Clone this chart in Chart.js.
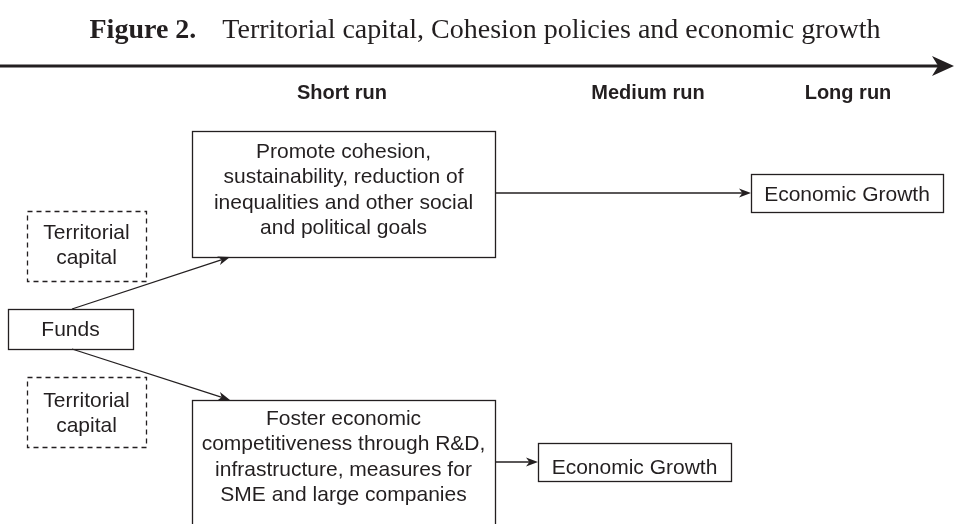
<!DOCTYPE html>
<html><head><meta charset="utf-8">
<script src="https://cdn.jsdelivr.net/npm/chart.js@4/dist/chart.umd.min.js"></script>
<style>html,body{margin:0;padding:0;background:#fff}</style>
</head><body>
<canvas id="c" width="954" height="524"></canvas>
<script>
// ---- content ----
const titleBold = 'Figure 2.';
const titleText = 'Territorial capital, Cohesion policies and economic growth';
const stageLabels = ['Short run', 'Medium run', 'Long run'];
const boxLabels = [
  ['Promote cohesion,', 'sustainability, reduction of', 'inequalities and other social', 'and political goals'],
  ['Economic Growth'],
  ['Territorial', 'capital'],
  ['Funds'],
  ['Territorial', 'capital'],
  ['Foster economic', 'competitiveness through R&D,', 'infrastructure, measures for', 'SME and large companies'],
  ['Economic Growth']
];
const boxDashed = [false, false, true, false, true, false, false];
// ---- layout (diagram units) ----
const stageX = [342, 648, 848];
const stageY = 93;
const boxLeft   = [192, 751, 27,  8,   27,  192, 538];
const boxTop    = [131, 174, 211, 309, 377, 400, 443];
const boxRight  = [495, 943, 146, 133, 146, 495, 731];
const boxBottom = [257, 212, 281, 349, 447, 540, 481];
const textTopY  = [152, 195, 233, 330, 401, 419, 468];
const lineStep = 25.5;
const arrowFromX = [0,   495, 72,  72,  495];
const arrowFromY = [66,  193, 309, 349, 462];
const arrowToX   = [954, 751, 230, 230, 538];
const arrowToY   = [66,  193, 257, 400, 462];
const arrowWidth = [3.2, 1.3, 1.3, 1.3, 1.3];
const headLen    = [22,  12,  12,  12,  12];
const headHalf   = [10,  4.5, 4.5, 4.5, 4.5];

const ink = '#231f20';

function shaftEnd(i) {
  const dx = arrowToX[i] - arrowFromX[i], dy = arrowToY[i] - arrowFromY[i];
  const L = Math.hypot(dx, dy);
  const k = (L - headLen[i] * 0.7) / L;
  return { x: arrowFromX[i] + dx * k, y: arrowFromY[i] + dy * k };
}

const datasets = arrowFromX.map((_, i) => ({
  type: 'line',
  data: [{ x: arrowFromX[i], y: arrowFromY[i] }, shaftEnd(i)],
  borderColor: ink,
  borderWidth: arrowWidth[i],
  pointRadius: 0,
  showLine: true,
  fill: false,
  clip: false
}));

const diagramPlugin = {
  id: 'diagram',
  afterDatasetsDraw(chart) {
    const ctx = chart.ctx;
    const xs = chart.scales.x, ys = chart.scales.y;
    const X = v => xs.getPixelForValue(v), Y = v => ys.getPixelForValue(v);
    ctx.save();
    // title
    ctx.fillStyle = ink;
    ctx.textBaseline = 'alphabetic';
    ctx.textAlign = 'left';
    const fb = 'bold 28px "Liberation Serif", "Times New Roman", serif';
    const fr = '28px "Liberation Serif", "Times New Roman", serif';
    ctx.font = fb; const wb = ctx.measureText(titleBold).width;
    ctx.font = fr; const wr = ctx.measureText(titleText).width;
    const gap = 26;
    const total = wb + gap + wr;
    const tx = X(485) - total / 2, ty = Y(38);
    ctx.font = fb; ctx.fillText(titleBold, tx, ty);
    ctx.font = fr; ctx.fillText(titleText, tx + wb + gap, ty);

    // stage headers
    ctx.font = 'bold 20px "Liberation Sans", Arial, sans-serif';
    ctx.textAlign = 'center';
    ctx.textBaseline = 'middle';
    stageLabels.forEach((s, i) => ctx.fillText(s, X(stageX[i]), Y(stageY)));

    // boxes
    ctx.strokeStyle = ink;
    ctx.lineWidth = 1.3;
    boxLabels.forEach((lines, i) => {
      ctx.setLineDash(boxDashed[i] ? [5, 4] : []);
      const x0 = X(boxLeft[i]), y0 = Y(boxTop[i]);
      const x1 = X(boxRight[i]), y1 = Y(boxBottom[i]);
      ctx.strokeRect(Math.round(x0) + 0.5, Math.round(y0) + 0.5, Math.round(x1 - x0), Math.round(y1 - y0));
      ctx.setLineDash([]);
      ctx.font = '21px "Liberation Sans", Arial, sans-serif';
      const cx = (x0 + x1) / 2;
      lines.forEach((t, k) => ctx.fillText(t, cx, Y(textTopY[i] + k * lineStep)));
    });

    // arrow heads
    arrowFromX.forEach((_, i) => {
      const tx2 = X(arrowToX[i]), ty2 = Y(arrowToY[i]);
      const fx = X(arrowFromX[i]), fy = Y(arrowFromY[i]);
      const a = Math.atan2(ty2 - fy, tx2 - fx);
      const L = headLen[i], H = headHalf[i];
      ctx.save();
      ctx.translate(tx2, ty2);
      ctx.rotate(a);
      ctx.beginPath();
      ctx.moveTo(0, 0);
      ctx.lineTo(-L, -H);
      ctx.lineTo(-L * 0.72, 0);
      ctx.lineTo(-L, H);
      ctx.closePath();
      ctx.fillStyle = ink;
      ctx.fill();
      ctx.restore();
    });
    ctx.restore();
  }
};

new Chart(document.getElementById('c'), {
  type: 'scatter',
  data: { datasets },
  options: {
    responsive: false,
    animation: false,
    events: [],
    layout: { padding: 0 },
    scales: {
      x: { type: 'linear', min: 0, max: 954, display: false },
      y: { type: 'linear', min: 0, max: 524, reverse: true, display: false }
    },
    plugins: { legend: { display: false }, tooltip: { enabled: false }, title: { display: false } }
  },
  plugins: [diagramPlugin]
});
</script>
</body></html>
